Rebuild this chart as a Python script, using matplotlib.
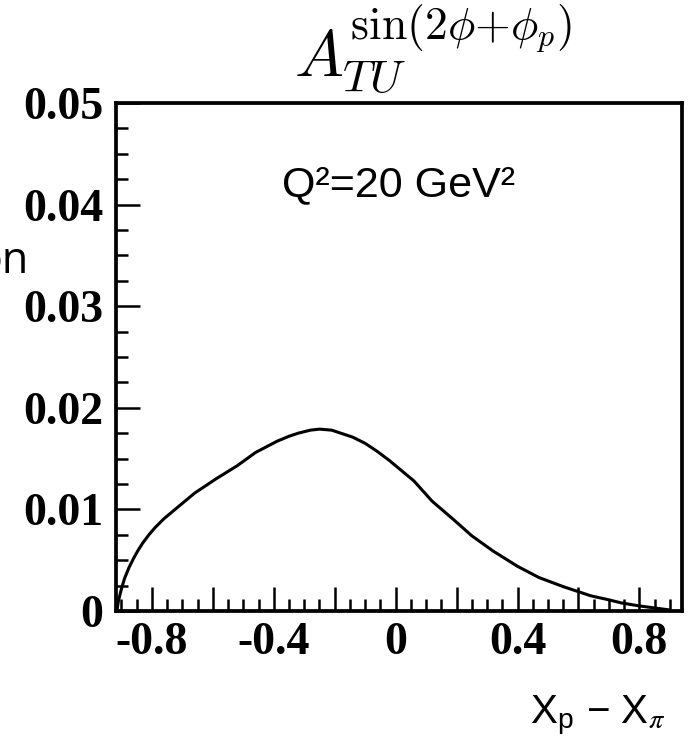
import matplotlib
matplotlib.use("Agg")
import matplotlib.pyplot as plt
from matplotlib.ticker import MultipleLocator, FuncFormatter
from matplotlib.font_manager import FontProperties

# ---- data ----
x_vals = [-0.915, -0.91, -0.90, -0.89, -0.875, -0.86, -0.845, -0.83, -0.81, -0.79,
          -0.76, -0.72, -0.66, -0.59, -0.52, -0.46, -0.39, -0.35, -0.32, -0.28,
          -0.25, -0.21, -0.18, -0.14, -0.10, -0.06, -0.02, 0.02, 0.06, 0.12,
          0.19, 0.25, 0.32, 0.40, 0.47, 0.55, 0.60, 0.64, 0.70, 0.74, 0.80, 0.85, 0.90]
y_vals = [0.0000, 0.0010, 0.0022, 0.0032, 0.0043, 0.0052, 0.0060, 0.0067, 0.0075, 0.0082,
          0.0091, 0.0101, 0.0116, 0.0130, 0.0143, 0.0156, 0.0167, 0.0172, 0.0175, 0.0178,
          0.0179, 0.0178, 0.0175, 0.0171, 0.0165, 0.0157, 0.0148, 0.0138, 0.0128, 0.0108,
          0.0090, 0.0074, 0.0059, 0.0044, 0.0033, 0.0024, 0.0019, 0.0015, 0.0011, 0.0008, 0.0005, 0.0003, 0.0001]

x_major = 0.2
x_label_step = 0.4
x_minor = 0.05
y_major = 0.01
y_minor = 0.0025
xlim = (-0.918, 0.94)
ylim = (0.0, 0.05)

title_text = r'$A_{TU}^{\sin(2\phi{+}\phi_p)}$'
annot_text = 'Q\u00b2=20 GeV\u00b2'
xlabel_text = 'X$_\\mathregular{p}$ \u2212 X$_\\pi$'
side_text = 'on'

W, H = 688, 739
fig = plt.figure(figsize=(W / 100, H / 100), dpi=100)
ax = fig.add_axes([116 / W, 1 - 611 / H, (682 - 116) / W, (611 - 103) / H])

ax.plot(x_vals, y_vals, color='black', lw=2.2, solid_capstyle='butt',
        solid_joinstyle='round')
ax.set_xlim(*xlim)
ax.set_ylim(*ylim)

for s in ax.spines.values():
    s.set_linewidth(2.7)

ax.xaxis.set_major_locator(MultipleLocator(x_major))
ax.xaxis.set_minor_locator(MultipleLocator(x_minor))
ax.yaxis.set_major_locator(MultipleLocator(y_major))
ax.yaxis.set_minor_locator(MultipleLocator(y_minor))


def xfmt(v, pos):
    k = v / x_label_step
    if abs(k - round(k)) > 1e-4:
        return ''
    if abs(v) < 1e-9:
        return '0'
    return '%.1f' % v


def yfmt(v, pos):
    if abs(v) < 1e-12:
        return '0'
    return '%.2f' % v


ax.xaxis.set_major_formatter(FuncFormatter(xfmt))
ax.yaxis.set_major_formatter(FuncFormatter(yfmt))

tick_fp = FontProperties(family='Liberation Serif', weight='bold', size=33)
ax.tick_params(which='both', direction='in', top=False, right=False, width=1.8)
ax.tick_params(which='major', length=17)
ax.tick_params(which='minor', length=8.5)
ax.tick_params(axis='x', which='major', pad=8)
ax.tick_params(axis='y', which='major', pad=9)
for lab in ax.get_xticklabels() + ax.get_yticklabels():
    lab.set_fontproperties(tick_fp)

fig.text(433 / W, 1 - 50 / H, title_text, ha='center', va='center',
         fontsize=47, math_fontfamily='cm')
fig.text(399 / W, 1 - 185 / H, annot_text, ha='center', va='center',
         fontsize=31, family='Liberation Sans')
fig.text(530 / W, 1 - 724 / H, xlabel_text, ha='left', va='baseline',
         fontsize=29, family='Liberation Sans', math_fontfamily='stix')
fig.text(29 / W, 1 - 273 / H, side_text, ha='right', va='baseline',
         fontsize=31, family='Open Sans')

fig.savefig('out.png', dpi=100)
